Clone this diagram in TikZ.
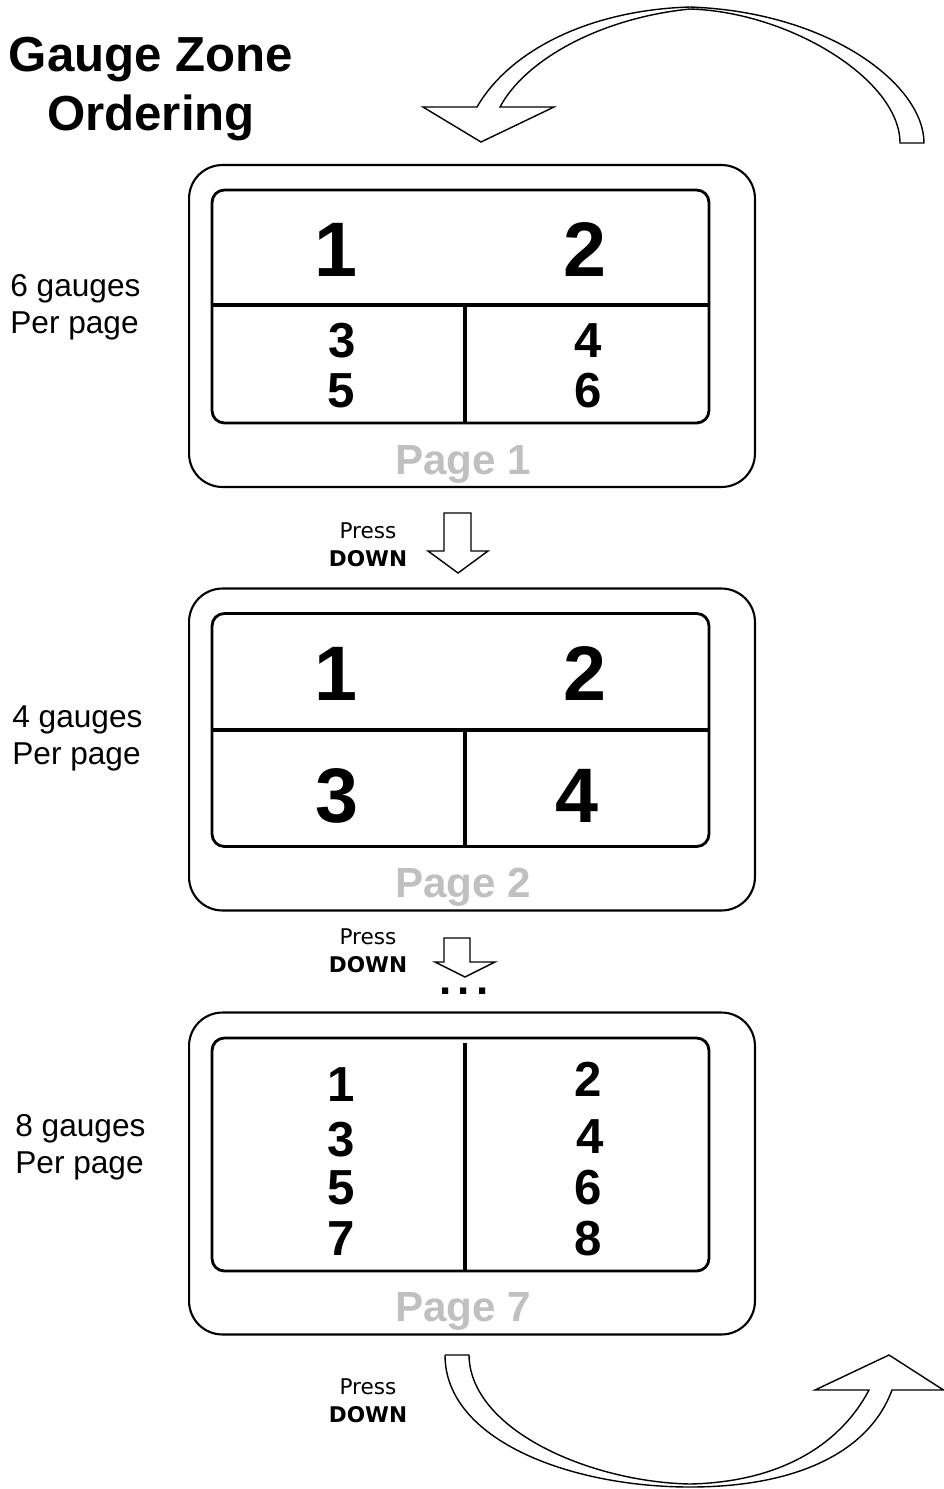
\documentclass[tikz,border=0pt]{standalone}
\usepackage{fontspec}
\setmainfont{Liberation Sans}
\newfontfamily\pressfont{DejaVu Sans}

\definecolor{pagegray}{RGB}{192,192,192}

\tikzstyle{outerbox} = [draw,line width=1.2pt,rounded corners=19pt,minimum width=11.32cm,minimum height=6.44cm,inner sep=0pt]
\tikzstyle{innerbox} = [draw,line width=1.6pt,rounded corners=7pt,minimum width=9.94cm,minimum height=4.66cm,inner sep=0pt]
\tikzstyle{divider} = [draw,line width=2.2pt]
\tikzstyle{bignum} = [font=\bfseries\fontsize{44}{44}\selectfont,anchor=base,inner sep=0pt]
\tikzstyle{smallnum} = [font=\bfseries\fontsize{28}{28}\selectfont,anchor=base,inner sep=0pt]
\tikzstyle{pagelabel} = [font=\bfseries\fontsize{24}{24}\selectfont,text=pagegray,anchor=base,inner sep=0pt]
\tikzstyle{countlabel} = [font=\fontsize{18}{20.5}\selectfont,anchor=base west,align=left,inner sep=0pt]
\tikzstyle{presslabel} = [font=\pressfont\fontsize{12.3}{15.4}\selectfont,anchor=base,align=center,inner sep=0pt]
\tikzstyle{blockarrow} = [draw,line width=0.8pt,fill=white,line join=miter]

\begin{document}
\begin{tikzpicture}[x=0.02cm,y=-0.02cm]
    \useasboundingbox (0,0) rectangle (944,1489);

    % title
    \node[font=\bfseries\fontsize{28}{33.5}\selectfont,align=center,anchor=base,inner sep=0pt] (title) at (151,130) {Gauge Zone\\Ordering};

    % pages
    \foreach \pagename/\y/\label in {pageone/326/1, pagetwo/749.5/2, pageseven/1173.5/7}
    {
        \node[outerbox] (\pagename) at (472,\y) {};
        \node[pagelabel] (\pagename-label) at (463,\y+148) {Page \label};
    };
    \node[innerbox] (screenone) at (460.5,306.5) {};
    \node[innerbox] (screentwo) at (460.5,730) {};
    \node[innerbox] (screenseven) at (460.5,1154.5) {};

    % dividers
    \draw[divider] (212,305) -- (709,305);
    \draw[divider] (465,305) -- (465,423);
    \draw[divider] (212,730) -- (709,730);
    \draw[divider] (465,730) -- (465,846);
    \draw[divider] (465,1043) -- (465,1270);

    % gauge numbers
    \foreach \nodename/\x/\y/\num in {
      onea/336/276/1, oneb/585/276/2,
      twoa/336/700/1, twob/585/700/2, twoc/337/822/3, twod/577/822/4}
    {
        \node[bignum] (\nodename) at (\x,\y) {\num};
    };
    \foreach \nodename/\x/\y/\num in {
      onec/342/357/3, oned/588/357/4, onee/341/407/5, onef/588/407/6,
      sevena/341/1101/1, sevenb/588/1096/2, sevenc/341/1156/3, sevend/590/1153/4,
      sevene/341/1204/5, sevenf/588/1204/6, seveng/341/1255/7, sevenh/588/1255/8}
    {
        \node[smallnum] (\nodename) at (\x,\y) {\num};
    };

    % gauge counts
    \node[countlabel] (countone) at (10,333) {6 gauges\\Per page};
    \node[countlabel] (counttwo) at (12,764) {4 gauges\\Per page};
    \node[countlabel] (countseven) at (15,1173) {8 gauges\\Per page};

    % press down
    \node[presslabel] (pressone) at (368,566) {Press\\\textbf{DOWN}};
    \node[presslabel] (presstwo) at (368,972) {Press\\\textbf{DOWN}};
    \node[presslabel] (pressthree) at (368,1422) {Press\\\textbf{DOWN}};

    \draw[blockarrow] (444,513) -- (471,513) -- (471,551) -- (488,551) -- (458,573) -- (428,551) -- (444,551) -- cycle;
    \draw[blockarrow] (444,938) -- (470,938) -- (470,962) -- (495,962) -- (465,977) -- (435,962) -- (444,962) -- cycle;
    \node[font=\bfseries\fontsize{25}{25}\selectfont,anchor=base,inner sep=0pt] (more) at (464,994) {.\hspace{3.8pt}.\hspace{3.8pt}.};

    % wrap around arrows
    \draw[blockarrow] (481,142) -- (554,107) -- (500,107)
      .. controls (525,60) and (600,18) .. (690,9)
      .. controls (790,12) and (900,80) .. (900,143)
      -- (924,143)
      .. controls (924,85) and (830,12) .. (690,7)
      .. controls (590,10) and (510,50) .. (477,107)
      -- (423,107) -- cycle;
    \draw[blockarrow] (445,1355) -- (469,1355)
      .. controls (470,1430) and (590,1482) .. (690,1484)
      .. controls (780,1482) and (840,1445) .. (869,1390)
      -- (815,1390) -- (889,1355) -- (943.5,1390) -- (892,1390)
      .. controls (870,1450) and (800,1487) .. (690,1487)
      .. controls (570,1487) and (445,1440) .. (445,1355);
\end{tikzpicture}
\end{document}
